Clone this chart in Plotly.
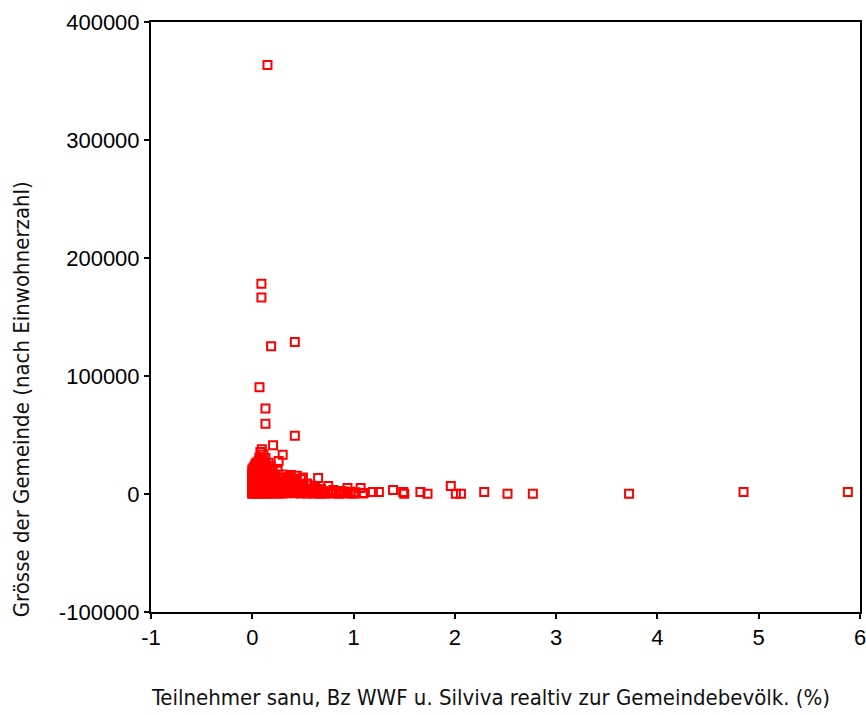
import plotly.graph_objects as go

# Community size vs. share of participants (sanu, Bz WWF, Silviva) in percent
# Isolated large communities
x_large = [0.15, 0.09, 0.09, 0.186, 0.42, 0.071, 0.13, 0.13, 0.42, 0.205, 0.094, 0.30, 0.26]
y_large = [363600, 178200, 166600, 125200, 128800, 90500, 72500, 59500, 49300, 41400, 38000, 33200, 27900]

# Dense group of small communities with low participation
x_cluster = (
    [0.00] * 16 + [0.01] * 9 + [0.02] * 10 + [0.03] * 9 + [0.04] * 10 + [0.05] * 8
    + [0.06] * 8 + [0.07] * 8 + [0.08] * 9 + [0.09] * 7 + [0.10] * 7 + [0.11] * 7
    + [0.12] * 7 + [0.13] * 7 + [0.14] * 6 + [0.15] * 6 + [0.16] * 5 + [0.17] * 6
    + [0.18] * 5 + [0.19] * 4 + [0.20] * 6 + [0.21] * 3 + [0.22] * 5 + [0.23] * 3
    + [0.24] * 4 + [0.25] * 3 + [0.26] * 4 + [0.27] * 3 + [0.28] * 3 + [0.29] * 3
    + [0.30] * 3 + [0.32] * 3 + [0.34] * 3 + [0.36] * 3 + [0.38] * 4 + [0.40] * 3
    + [0.42] * 3 + [0.44] * 3 + [0.46] * 3 + [0.48] * 3 + [0.50] * 3 + [0.52] * 2
    + [0.54] * 3 + [0.56] * 2 + [0.58] * 3 + [0.60] * 3 + [0.62] * 2 + [0.65] * 3
    + [0.68] * 3 + [0.70] * 2 + [0.72] * 2 + [0.75] * 2 + [0.78] * 2 + [0.80] * 2
    + [0.83] * 2 + [0.86] * 2 + [0.88] * 2 + [0.91] * 2 + [0.94] * 2 + [0.97] * 2
    + [1.00, 1.02, 1.07, 1.09, 1.10]
)
y_cluster = [
    300, 800, 1500, 2300, 3100, 4000, 5200, 6400, 7800, 9300, 11000, 12800, 14700, 16500, 18400, 20500,
    600, 1900, 3500, 5900, 8400, 10200, 13500, 17200, 21800,
    400, 1100, 2700, 4600, 7100, 9800, 12100, 15600, 19300, 23100,
    900, 2100, 3800, 6200, 8900, 11600, 14200, 17800, 24900,
    500, 1600, 3300, 5400, 7500, 10400, 13100, 16200, 20100, 26400,
    700, 2500, 4300, 6800, 9600, 12400, 18700, 22600,
    400, 1300, 3000, 5000, 8200, 11200, 15300, 27800,
    1000, 2800, 4900, 7300, 10800, 14600, 19600, 31000,
    600, 2200, 3900, 6100, 9100, 13400, 17100, 24000, 35500,
    900, 3400, 5600, 8700, 12700, 21200, 30000,
    500, 1800, 4100, 7000, 10100, 16000, 28500,
    1200, 2900, 5300, 9400, 13800, 20600, 33500,
    700, 2400, 4700, 7700, 11900, 18200, 25500,
    400, 1500, 3600, 6500, 10500, 15000, 30500,
    1100, 2600, 5100, 8600, 12300, 22400,
    600, 2000, 4400, 7200, 14400, 19000,
    900, 3200, 6000, 9900, 26500,
    500, 1700, 4200, 8000, 11500, 16800,
    1300, 3700, 5700, 13200, 23800,
    800, 2300, 6700, 9200,
    400, 1900, 4800, 10800, 17500, 21500,
    1100, 3400, 7400,
    700, 2700, 5500, 12800, 15800,
    1500, 4000, 8800,
    600, 2200, 6300, 11200,
    1000, 3500, 19800,
    500, 2600, 5000, 9500,
    1400, 7800, 14000,
    800, 3100, 4600,
    2000, 6100, 10600,
    500, 3800, 16500,
    1200, 5200, 9000,
    700, 2900, 12500,
    1800, 6600, 14500,
    900, 4300, 11000, 16000,
    2400, 7500, 13000,
    600, 3600, 9800,
    1500, 5800, 15500,
    800, 2800, 8200,
    400, 4500, 12500,
    1600, 6800, 14000,
    900, 3200,
    500, 2200, 9000,
    1300, 4800,
    700, 2600, 7200,
    400, 1800, 3800,
    1100, 5600,
    600, 2900, 13500,
    300, 1500, 4200,
    900, 2400,
    500, 1700,
    1200, 6800,
    400, 2100,
    900, 3300,
    600, 1600,
    300, 1200,
    800, 2600,
    500, 1900,
    5000, 1000,
    600, 2000,
    300, 1500, 5000, 400, 900,
]

# Communities with high participation shares
x_tail = [1.19, 1.25, 1.39, 1.49, 1.50, 1.66, 1.73, 1.96, 2.01, 2.06, 2.29, 2.52, 2.77, 3.72, 4.85, 5.88]
y_tail = [1700, 1700, 3400, 1700, 200, 1700, 200, 6800, 200, 200, 1700, 200, 200, 200, 1700, 1700]

x_all = x_large + x_cluster + x_tail
y_all = y_large + y_cluster + y_tail

x_ticks = [-1, 0, 1, 2, 3, 4, 5, 6]
y_ticks = [-100000, 0, 100000, 200000, 300000, 400000]

x_title = "Teilnehmer sanu, Bz WWF u. Silviva realtiv zur Gemeindebevölk. (%)"
y_title = "Grösse der Gemeinde (nach Einwohnerzahl)"

fig = go.Figure(
    go.Scatter(
        x=x_all,
        y=y_all,
        mode="markers",
        marker=dict(symbol="square-open", size=8, color="#ff0000",
                    line=dict(width=2, color="#ff0000")),
        showlegend=False,
        hoverinfo="x+y",
    )
)

axis_common = dict(
    showline=True, linewidth=2, linecolor="black", mirror=True,
    ticks="outside", ticklen=5, tickwidth=1.5, tickcolor="black",
    showgrid=False, zeroline=False, ticklabeloverflow="allow",
    tickfont=dict(family="Liberation Sans, Arial, sans-serif", size=22, color="black"),
)
title_font = dict(family="DejaVu Sans Condensed, Liberation Sans Narrow, Liberation Sans, sans-serif",
                  size=22, color="#111111")

fig.update_xaxes(range=[-1, 6], tickvals=x_ticks, ticktext=[str(v) for v in x_ticks], **axis_common)
fig.update_yaxes(range=[-100000, 400000], tickvals=y_ticks, ticktext=[str(v) for v in y_ticks],
                 **axis_common)

# Axis titles placed as annotations in paper coordinates
fig.add_annotation(text=x_title, xref="paper", yref="paper", x=0.4795, y=-0.145,
                   xanchor="center", yanchor="middle", showarrow=False, font=title_font)
fig.add_annotation(text=y_title, xref="paper", yref="paper", x=-0.183, y=0.361,
                   xanchor="center", yanchor="middle", textangle=-90, showarrow=False,
                   font=title_font)

fig.update_layout(
    width=866, height=715, autosize=False,
    margin=dict(l=151, r=6, t=22, b=103, autoexpand=False),
    paper_bgcolor="white", plot_bgcolor="white",
)

fig.write_html("out.html")
